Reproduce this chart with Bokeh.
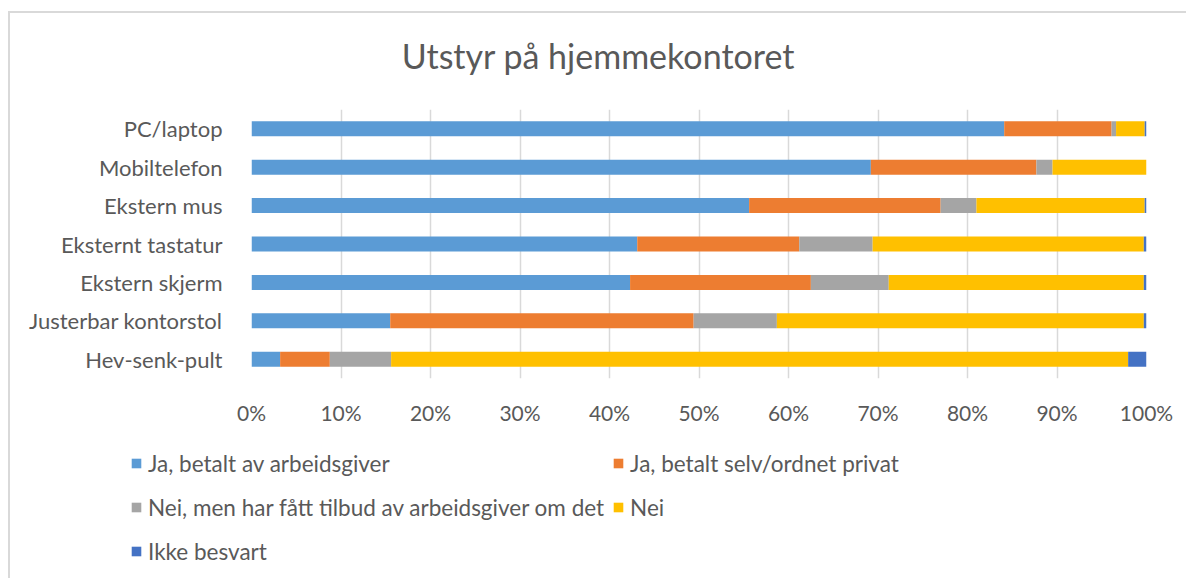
from bokeh.plotting import figure
from bokeh.layouts import column
from bokeh.models import Range1d, FactorRange, Legend, LegendItem, FixedTicker, PrintfTickFormatter
from bokeh.embed import file_html
from bokeh.resources import INLINE

categories = ["PC/laptop", "Mobiltelefon", "Ekstern mus", "Eksternt tastatur",
              "Ekstern skjerm", "Justerbar kontorstol", "Hev-senk-pult"]
series = ["Ja, betalt av arbeidsgiver", "Ja, betalt selv/ordnet privat",
          "Nei, men har fått tilbud av arbeidsgiver om det", "Nei", "Ikke besvart"]
colors = ["#5b9bd5", "#ed7d31", "#a5a5a5", "#ffc000", "#4472c4"]

ja_arbeidsgiver = [84.1, 69.2, 55.6, 43.1, 42.3, 15.5, 3.2]
ja_selv = [12.0, 18.5, 21.4, 18.1, 20.2, 33.9, 5.55]
nei_tilbud = [0.5, 1.8, 4.0, 8.2, 8.7, 9.3, 6.85]
nei = [3.2, 10.5, 18.8, 30.3, 28.5, 41.0, 82.35]
ikke_besvart = [0.2, 0.0, 0.2, 0.3, 0.3, 0.3, 2.05]
x_ticks = [0, 10, 20, 30, 40, 50, 60, 70, 80, 90, 100]
title_text = "Utstyr på hjemmekontoret"

FONT = "Lato"
TXT = "#595959"

data = {"cat": categories}
for name, vals in zip(series, [ja_arbeidsgiver, ja_selv, nei_tilbud, nei, ikke_besvart]):
    data[name] = vals


def blank(height, **kw):
    f = figure(width=1176, height=height, output_backend="svg", toolbar_location=None,
               x_range=Range1d(0, 1), y_range=Range1d(0, 1),
               x_axis_location=None, y_axis_location=None,
               min_border_left=0, min_border_right=0, min_border_bottom=0, **kw)
    f.frame_align = False
    f.outline_line_color = None
    f.xgrid.grid_line_color = None
    f.ygrid.grid_line_color = None
    f.background_fill_color = "white"
    f.border_fill_color = "white"
    return f


# Title panel
t = blank(70, min_border_top=65, title=title_text)
t.title.text_font = FONT
t.title.text_font_size = "34px"
t.title.text_font_style = "normal"
t.title.text_color = TXT
t.title.align = "center"
t.title.standoff = 6

# Main chart
p = figure(width=1176, height=357, output_backend="svg", toolbar_location=None,
           y_range=FactorRange(*list(reversed(categories))),
           x_range=Range1d(0, 100),
           min_border_left=241, min_border_right=40, min_border_top=26, min_border_bottom=62)

renderers = p.hbar_stack(series, y="cat", height=0.39, color=colors, source=data, line_width=0)

p.outline_line_color = None
p.background_fill_color = "white"
p.border_fill_color = "white"

p.xgrid.ticker = FixedTicker(ticks=x_ticks)
p.xgrid.grid_line_color = "#d9d9d9"
p.xgrid.grid_line_width = 1.5
p.ygrid.grid_line_color = None

p.xaxis.ticker = FixedTicker(ticks=x_ticks)
p.xaxis.formatter = PrintfTickFormatter(format="%d%%")
p.xaxis.axis_line_color = None
p.xaxis.major_tick_line_color = None
p.xaxis.minor_tick_line_color = None
p.xaxis.major_label_text_font = FONT
p.xaxis.major_label_text_font_size = "21px"
p.xaxis.major_label_text_color = TXT
p.xaxis.major_label_standoff = 15

p.yaxis.axis_line_color = None
p.yaxis.major_tick_line_color = None
p.yaxis.minor_tick_line_color = None
p.yaxis.major_label_text_font = FONT
p.yaxis.major_label_text_font_size = "22px"
p.yaxis.major_label_text_color = TXT
p.yaxis.major_label_standoff = 23

# Legend panel (separate figure below the chart so that it is not clipped)
q = blank(138, min_border_top=0)

# zero-width proxy bars that only carry the legend swatches
proxies = [q.hbar(y=[0.5], left=[0], right=[0], height=0.1, color=c, line_width=0) for c in colors]
items = [LegendItem(label=s, renderers=[r]) for s, r in zip(series, proxies)]
legend = Legend(items=items, location=(120, 9), orientation="horizontal", ncols=2,
                label_text_font=FONT, label_text_font_size="22.5px", label_text_color=TXT,
                glyph_width=12, glyph_height=12, label_height=36, label_standoff=6,
                spacing=8, padding=0, margin=0, border_line_alpha=0, background_fill_alpha=0)
q.add_layout(legend, "center")

layout = column(t, p, q, spacing=0,
                styles={"margin-left": "8px", "margin-top": "11px",
                        "border-left": "2px solid #d9d9d9", "border-top": "2px solid #d9d9d9"})

open("out.html", "w").write(file_html(layout, INLINE))
